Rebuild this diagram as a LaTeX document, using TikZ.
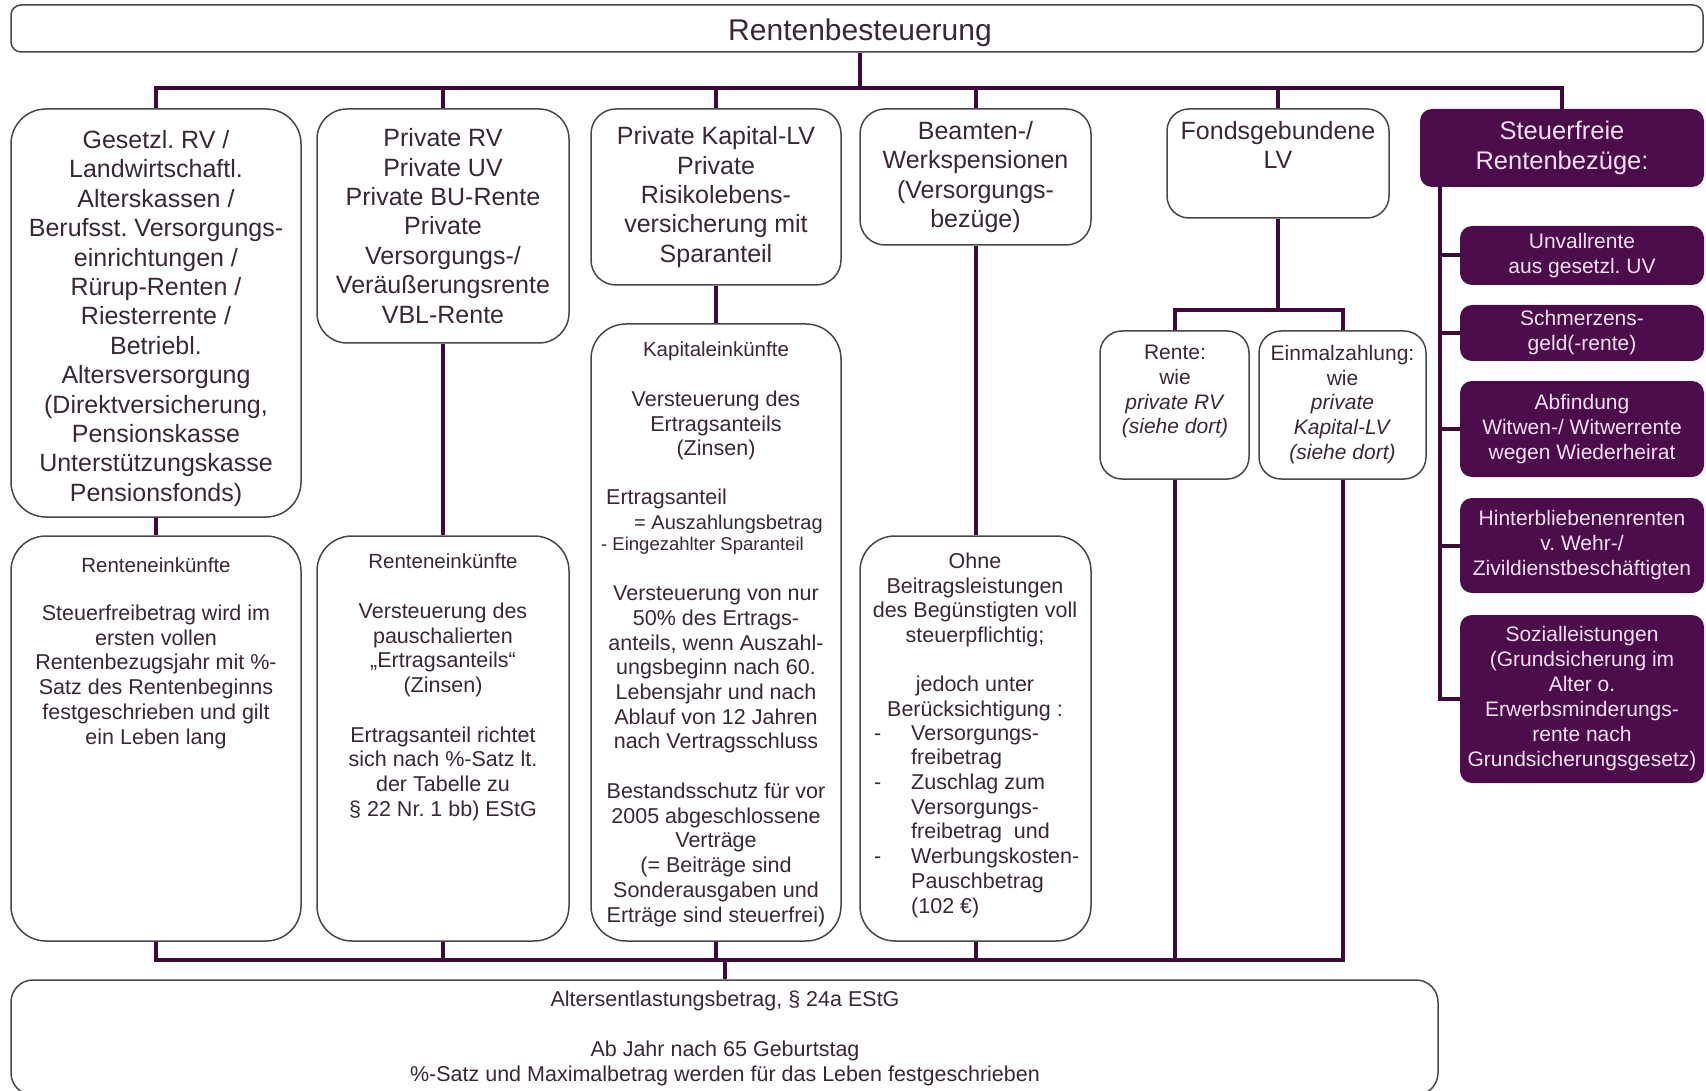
\documentclass[tikz,border=0pt]{standalone}
\usepackage{fontspec}
\setmainfont{Liberation Sans}
\usepackage{array}
\definecolor{conncol}{HTML}{3D0A3B}
\definecolor{darkfill}{HTML}{4C0B4A}
\definecolor{txtcol}{HTML}{3A2838}
\definecolor{bordcol}{HTML}{4A464A}
\definecolor{lighttxt}{HTML}{F5E1F3}
\frenchspacing
\begin{document}
\begin{tikzpicture}[x=1pt,y=-1pt,
  wbox/.style={draw=bordcol, line width=1.5pt, fill=white, rounded corners=#1, inner sep=0pt, align=center, text=txtcol},
  wbox/.default=25pt,
  dbox/.style={fill=darkfill, rounded corners=12pt, inner sep=0pt, align=center, text=lighttxt, font=\fontsize{21}{25}\selectfont},
  conn/.style={draw=conncol, line width=4pt},
  ftitle/.style={font=\fontsize{30}{34}\selectfont},
  fbig/.style={font=\fontsize{25}{29.4}\selectfont},
  fbody/.style={font=\fontsize{21.5}{24.7}\selectfont},
  fhead/.style={font=\fontsize{20.5}{24}\selectfont},
  fsmall/.style={font=\fontsize{21}{24.7}\selectfont},
  txt/.style={inner sep=0pt, text=txtcol, align=center},
]
\useasboundingbox (0,0) rectangle (1706,1091);

% title
\node[wbox=10pt, minimum width=1692pt, minimum height=47pt] (T) at (857,28.5) {};
\node[txt, ftitle] (Tt) at (860,33) {Rentenbesteuerung};

% first row
\node[wbox=35pt, minimum width=290pt, minimum height=408pt] (A1) at (156,313) {};
\node[txt, fbig] (A1t) at (156,318.5) {Gesetzl. RV /\\Landwirtschaftl.\\Alterskassen /\\Berufsst. Versorgungs-\\einrichtungen /\\Rürup-Renten /\\Riesterrente /\\Betriebl.\\Altersversorgung\\(Direktversicherung,\\Pensionskasse\\Unterstützungskasse\\Pensionsfonds)};
\node[wbox=30pt, minimum width=252pt, minimum height=234pt, fbig] (A2) at (443,226) {Private RV\\Private UV\\Private BU-Rente\\Private\\Versorgungs-/\\Veräußerungsrente\\VBL-Rente};
\node[wbox=25pt, minimum width=250pt, minimum height=176pt, fbig] (A3) at (716,197) {Private Kapital-LV\\Private\\Risikolebens-\\versicherung mit\\Sparanteil};
\node[wbox=25pt, minimum width=231pt, minimum height=136pt, fbig] (A4) at (975.5,177) {Beamten-/\\Werkspensionen\\(Versorgungs-\\bezüge)};
\node[wbox=22pt, minimum width=222pt, minimum height=109pt] (A5) at (1278,163.5) {};
\node[txt, fbig, anchor=north] (A5t) at (1278,121) {Fondsgebundene\\LV};
\node[dbox, minimum width=284pt, minimum height=78pt, font=\fontsize{25.5}{30}\selectfont] (A6) at (1562,148) {Steuerfreie\\Rentenbezüge:};

% second row
\node[wbox=35pt, minimum width=290pt, minimum height=405pt] (B1) at (156,738.5) {};
\node[txt, fhead, anchor=north] (B1h) at (156,557.2) {Renteneinkünfte};
\node[txt, fbody, anchor=north] (B1b) at (156,604.8) {Steuerfreibetrag wird im\\ersten vollen\\Rentenbezugsjahr mit \%-\\Satz des Rentenbeginns\\festgeschrieben und gilt\\ein Leben lang};

\node[wbox=35pt, minimum width=252pt, minimum height=405pt] (B2) at (443,738.5) {};
\node[txt, fhead, anchor=north] (B2h) at (443,553.2) {Renteneinkünfte};
\node[txt, fbody, anchor=north] (B2b) at (443,602.8) {Versteuerung des\\pauschalierten\\„Ertragsanteils“\\(Zinsen)\\[24.7pt]Ertragsanteil richtet\\sich nach \%-Satz lt.\\der Tabelle zu\\§ 22 Nr. 1 bb) EStG};

\node[wbox=35pt, minimum width=250pt, minimum height=617pt] (B3) at (716,632.5) {};
\node[txt, fhead, anchor=north] (B3h) at (716,341.2) {Kapitaleinkünfte};
\node[txt, fbody, anchor=north] (B3a) at (716,390.8) {Versteuerung des\\Ertragsanteils\\(Zinsen)};
\node[txt, fbody, anchor=north west] (B3b) at (606,488.8) {Ertragsanteil};
\node[txt, font=\fontsize{20}{24}\selectfont, anchor=north west] (B3c) at (634,514.4) {= Auszahlungsbetrag};
\node[txt, font=\fontsize{18.5}{22}\selectfont, anchor=north west] (B3d) at (601,537) {- Eingezahlter Sparanteil};
\node[txt, fbody, anchor=north] (B3e) at (716,585.8) {Versteuerung von nur\\50\% des Ertrags-\\anteils, wenn Auszahl-\\ungsbeginn nach 60.\\Lebensjahr und nach\\Ablauf von 12 Jahren\\nach Vertragsschluss};
\node[txt, fbody, anchor=north] (B3f) at (716,782.8) {Bestandsschutz für vor\\2005 abgeschlossene\\Verträge\\(= Beiträge sind\\Sonderausgaben und\\Erträge sind steuerfrei)};

\node[wbox=35pt, minimum width=231pt, minimum height=405pt] (B4) at (975.5,738.5) {};
\node[txt, fbody, anchor=north] (B4a) at (975,552.8) {Ohne\\Beitragsleistungen\\des Begünstigten voll\\steuerpflichtig;\\[24.5pt]jedoch unter\\Berücksichtigung :};
\node[txt, fbody, anchor=north west, align=left] (B4b) at (874,722.7) {\begin{tabular}{@{}p{37pt}@{}l@{}}-&Versorgungs-\\&freibetrag\\-&Zuschlag zum\\&Versorgungs-\\&freibetrag\ \ und\\-&Werbungskosten-\\&Pauschbetrag\\&(102 €)\end{tabular}};

\node[wbox=22pt, minimum width=149pt, minimum height=148pt] (B5) at (1174.5,405) {};
\node[txt, fsmall, anchor=north] (B5t) at (1175,345) {Rente:\\wie\\\textit{private RV}\\\textit{(siehe dort)}};
\node[wbox=22pt, minimum width=167pt, minimum height=148pt] (B6) at (1342.5,405) {};
\node[txt, fsmall, anchor=north] (B6t) at (1342.5,345) {Einmalzahlung:\\wie\\\textit{private}\\\textit{Kapital-LV}\\\textit{(siehe dort)}};

% tax-free sub boxes
\node[dbox, minimum width=244pt, minimum height=59pt] (S1) at (1582,255.5) {Unvallrente\\aus gesetzl. UV};
\node[dbox, minimum width=244pt, minimum height=56pt] (S2) at (1582,333) {Schmerzens-\\geld(-rente)};
\node[dbox, minimum width=244pt, minimum height=96pt] (S3) at (1582,429) {Abfindung\\Witwen-/ Witwerrente\\wegen Wiederheirat};
\node[dbox, minimum width=244pt, minimum height=95pt] (S4) at (1582,545.5) {Hinterbliebenenrenten\\v. Wehr-/\\Zivildienstbeschäftigten};
\node[dbox, minimum width=244pt, minimum height=168pt] (S5) at (1582,699) {Sozialleistungen\\(Grundsicherung im\\Alter o.\\Erwerbsminderungs-\\rente nach\\Grundsicherungsgesetz)};

% bottom box
\node[wbox=22pt, minimum width=1427pt, minimum height=115pt] (C) at (724.5,1037.5) {};
\node[txt, font=\fontsize{21.5}{25}\selectfont, anchor=north] (C1) at (725,991) {Altersentlastungsbetrag, § 24a EStG};
\node[txt, font=\fontsize{21.5}{25}\selectfont, anchor=north] (C2) at (725,1041) {Ab Jahr nach 65 Geburtstag\\\%-Satz und Maximalbetrag werden für das Leben festgeschrieben};

% connectors
\coordinate (topbus) at (0,88);
\coordinate (fbus) at (0,310);
\coordinate (botbus) at (0,960);
\draw[conn] (Tt |- T.south) -- (Tt |- topbus);
\draw[conn] (A1.north) -- (A1.north |- topbus) -- (A6.north |- topbus) -- (A6.north);
\foreach \n in {A2,A3,A4,A5} \draw[conn] (\n.north) -- (\n.north |- topbus);

\draw[conn] (A1.south) -- (B1.north);
\draw[conn] (A2.south) -- (B2.north);
\draw[conn] (A3.south) -- (B3.north);
\draw[conn] (A4.south) -- (B4.north);
\draw[conn] (A5.south) -- (A5.south |- fbus);
\draw[conn] (B5.north) -- (B5.north |- fbus) -- (B6.north |- fbus) -- (B6.north);

\draw[conn] (B1.south) -- (B1.south |- botbus) -- (B6.south |- botbus) -- (B6.south);
\foreach \n in {B2,B3,B4,B5} \draw[conn] (\n.south) -- (\n.south |- botbus);
\draw[conn] (C.north) -- (C.north |- botbus);

\coordinate (sv) at ([xshift=20pt]A6.south west);
\draw[conn] (sv) |- (S5.west);
\foreach \n in {S1,S2,S3,S4} \draw[conn] (\n.west) -- (\n.west -| sv);
\end{tikzpicture}
\end{document}
